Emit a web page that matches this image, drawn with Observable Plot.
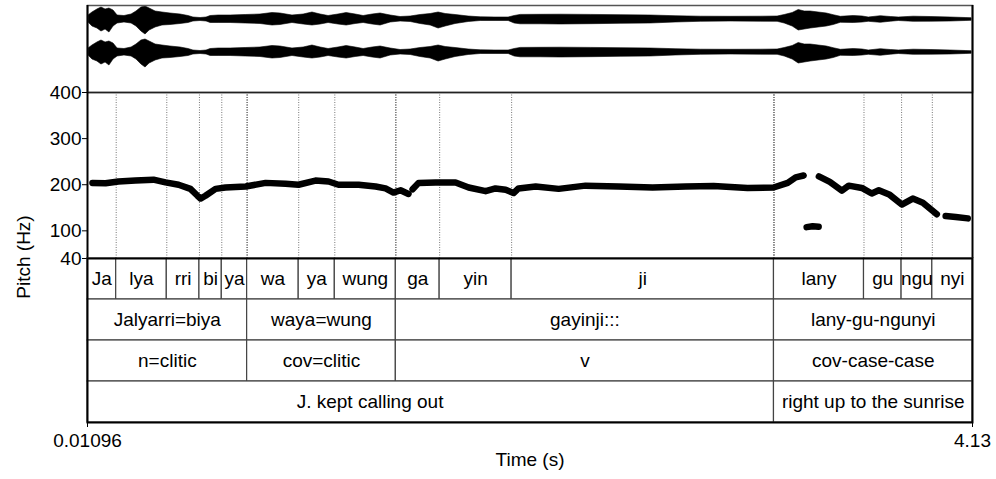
<!DOCTYPE html>
<html><head><meta charset="utf-8">
<script src="https://cdn.jsdelivr.net/npm/d3@7"></script>
<script src="https://cdn.jsdelivr.net/npm/@observablehq/plot@0.6"></script>
<style>
body{margin:0;background:#fff;}
#chart{position:relative;width:996px;height:479px;background:#fff;font-family:"Liberation Sans",Arial,sans-serif;}
#chart svg{position:absolute;left:0;overflow:visible;}
#ylab{position:absolute;left:22.5px;top:257px;transform:translate(-50%,-50%) rotate(-90deg);font-size:19px;white-space:nowrap;line-height:1;}
</style></head><body><div id="chart"><div id="ylab">Pitch (Hz)</div></div>
<script>
// ---- data ----
const timeTicks = [0.01096, 4.13];
const timeTickLabels = ["0.01096", "4.13"];
const pitchTicks = [40, 100, 200, 300, 400];

const tier1Labels = ["Ja","lya","rri","bi","ya","wa","ya","wung","ga","yin","ji","lany","gu","ngu","nyi"];
const tier1Bounds = [0.01096,0.1445,0.380,0.532,0.636,0.754,0.994,1.162,1.446,1.650,1.985,3.206,3.625,3.800,3.943,4.13];
const tier2Labels = ["Jalyarri=biya","waya=wung","gayinji:::","lany-gu-ngunyi"];
const tier2Bounds = [0.01096,0.754,1.446,3.206,4.13];
const tier3Labels = ["n=clitic","cov=clitic","v","cov-case-case"];
const tier3Bounds = [0.01096,0.754,1.446,3.206,4.13];
const tier4Labels = ["J. kept calling out" + "\u00A0".repeat(23),"right up to the sunrise"];
const tier4Bounds = [0.01096,3.206,4.13];

// pitch track (s, Hz), segment ids
const pitchT = [0.034,0.095,0.155,0.234,0.318,0.374,0.435,0.490,0.523,0.537,0.560,0.607,0.653,0.747,0.840,0.933,0.993,1.072,1.133,1.179,1.273,1.352,1.398,1.435,1.468,1.505,
  1.524,1.552,1.631,1.724,1.785,1.864,1.910,1.957,1.994,2.017,2.097,2.204,2.329,2.483,2.641,2.795,2.925,3.083,3.204,3.270,3.307,3.344,
  3.358,3.386,3.414,
  3.415,3.466,3.522,3.554,3.615,3.661,3.694,3.745,3.801,3.852,3.899,3.964,
  4.005,4.052,4.108];
const pitchF = [204,203,207,209,211,205,200,191,176,170,176,191,194,196,204,202,200,209,207,200,200,196,192,183,188,180,
  190,204,205,205,194,186,192,189,182,192,196,191,198,196,194,196,197,193,194,204,216,220,
  108,110,109,
  218,206,187,198,193,181,188,178,157,170,161,136,
  132,130,127];
const pitchSeg = [1,1,1,1,1,1,1,1,1,1,1,1,1,1,1,1,1,1,1,1,1,1,1,1,1,1,
  2,2,2,2,2,2,2,2,2,2,2,2,2,2,2,2,2,2,2,2,2,2,
  3,3,3,
  4,4,4,4,4,4,4,4,4,4,4,4,
  5,5,5];

// waveform amplitude envelope (s, upper, lower) – arbitrary units
const wavT = [0.0156,0.034,0.057,0.076,0.095,0.113,0.132,0.151,0.183,0.216,0.239,0.262,0.281,0.300,0.328,0.360,0.397,0.444,0.481,0.504,0.537,0.565,0.584,0.621,0.677,0.747,0.816,0.872,0.909,0.965,1.017,1.058,1.096,1.133,1.179,1.217,1.259,1.296,1.338,1.375,1.422,1.468,1.515,1.561,1.608,1.645,1.678,1.724,1.785,1.841,1.910,1.971,1.999,2.027,2.120,2.213,2.353,2.492,2.632,2.748,2.865,3.004,3.144,3.223,3.256,3.293,3.321,3.349,3.377,3.414,3.452,3.484,3.517,3.577,3.619,3.647,3.703,3.750,3.787,3.856,3.935,4.028,4.098,4.126];
const wavUp = [4,7,10,12,10,11,9,4,3.5,5,8,12,13,11,8,7,6,5,3.5,2,1.5,2,3.5,4,4,4.5,5,6.5,6,4,5,7,5,3.5,5,6.5,5,3.5,5,6,4,2.5,3,4.5,5.5,7,5.5,4.5,3,2.2,2,2,3.5,4.6,4.7,4.8,4.6,4.3,4,3.3,2.8,2.7,2.8,3,4.5,6.5,9.5,8,8,7,6,4.3,2.7,3.5,3,2,3.3,2.5,2,2.8,2.5,2,1.5,1.3];
const wavDown = [3,7,9,12,10,13,7,4,3,4,7,12,15,11,8,6,5.5,4.5,3.5,2,1.5,2,3.5,3.5,3.5,4,4.5,6,5.5,3.5,5,6,5,3.5,5,6,4.5,3.5,5,6,3,2,2.5,4.5,6,9,7,4.5,2.5,1.5,1.5,1.5,4,4.8,4.8,5,4.7,4.3,4,3,2.3,2,2.2,2.3,4,7,11,10,9,8,7,5.5,3.3,3.5,3,2.3,3.3,2.2,1.5,2.3,2.2,2,1.5,1.3];

// ---- build tables ----
const W = 996, ML = 87, MR = 24;
const xDom = [timeTicks[0], timeTicks[1]];
const font = '"Liberation Sans", Arial, sans-serif';
const chart = document.getElementById("chart");

function cells(labels, bounds, tier) {
  return labels.map((l, i) => ({tier, label: l, x1: bounds[i], x2: bounds[i + 1]}));
}
const tierCells = [
  ...cells(tier1Labels, tier1Bounds, 1),
  ...cells(tier2Labels, tier2Bounds, 2),
  ...cells(tier3Labels, tier3Bounds, 3),
  ...cells(tier4Labels, tier4Bounds, 4)
];
const innerBounds = [tier1Bounds, tier2Bounds, tier3Bounds, tier4Bounds].flatMap(b => b.slice(1, -1));

const pitch = pitchT.map((t, i) => ({t, f: pitchF[i], seg: pitchSeg[i]}));
const chOffset = [0, -33];
const wave = [0, 1].flatMap(ch => wavT.map((t, i) => ({t, ch, lo: chOffset[ch] - wavDown[i], hi: chOffset[ch] + wavUp[i]})));

function place(svg, top) { svg.style.top = top + "px"; chart.appendChild(svg); }

// ---- waveform ----
const wavePlot = Plot.plot({
  width: W, height: 92, marginTop: 5, marginBottom: 0, marginLeft: ML, marginRight: MR,
  style: {fontFamily: font, fontSize: "19px", background: "transparent", overflow: "visible"},
  x: {domain: xDom, axis: null},
  y: {domain: [-73, 14], axis: null},
  marks: [
    Plot.areaY(wave, {x: "t", y1: "lo", y2: "hi", z: "ch", fill: "black", stroke: "black", strokeWidth: 0.6}),
    Plot.frame({stroke: "#555", strokeWidth: 1.5}),
    Plot.ruleX(xDom, {stroke: "black", strokeWidth: 2})
  ]
});
place(wavePlot, 0);

// ---- pitch ----
const pitchPlot = Plot.plot({
  width: W, height: 166, marginTop: 0, marginBottom: 0, marginLeft: ML, marginRight: MR,
  style: {fontFamily: font, fontSize: "19px", background: "transparent", overflow: "visible", color: "black"},
  x: {domain: xDom, axis: null},
  y: {domain: [40, 400]},
  marks: [
    Plot.ruleX(innerBounds, {stroke: "#777", strokeWidth: 1, strokeDasharray: "1,1.5"}),
    Plot.line(pitch, {x: "t", y: "f", z: "seg", stroke: "black", strokeWidth: 6.5, strokeLinecap: "round", strokeLinejoin: "round"}),
    Plot.ruleY([400], {stroke: "#222", strokeWidth: 1.5}),
    Plot.ruleX(xDom, {stroke: "black", strokeWidth: 2}),
    Plot.axisY({ticks: pitchTicks, tickSize: 5, tickPadding: 1, fontSize: 19, label: null, stroke: "black"})
  ]
});
place(pitchPlot, 92);

// ---- tiers ----
const tierPlot = Plot.plot({
  width: W, height: 221, marginTop: 0, marginBottom: 57, marginLeft: ML, marginRight: MR,
  style: {fontFamily: font, fontSize: "19px", background: "transparent", overflow: "visible", color: "black"},
  x: {domain: xDom},
  y: {type: "band", domain: [1, 2, 3, 4], padding: 0, axis: null},
  marks: [
    Plot.barX(tierCells, {x1: "x1", x2: "x2", y: "tier", fill: "white", stroke: "#444", strokeWidth: 1.2}),
    Plot.text(tierCells, {x: d => (d.x1 + d.x2) / 2, y: "tier", text: "label", fontSize: 19, fill: "black"}),
    Plot.frame({stroke: "black", strokeWidth: 2}),
    Plot.axisX({ticks: timeTicks, tickFormat: d => timeTickLabels[timeTicks.indexOf(d)], tickSize: 5, tickPadding: 6, fontSize: 19, label: null, stroke: "black"}),
    Plot.text(["Time (s)"], {text: d => d, frameAnchor: "bottom", dy: 43, fontSize: 19, fill: "black"})
  ]
});
place(tierPlot, 258);
</script></body></html>
